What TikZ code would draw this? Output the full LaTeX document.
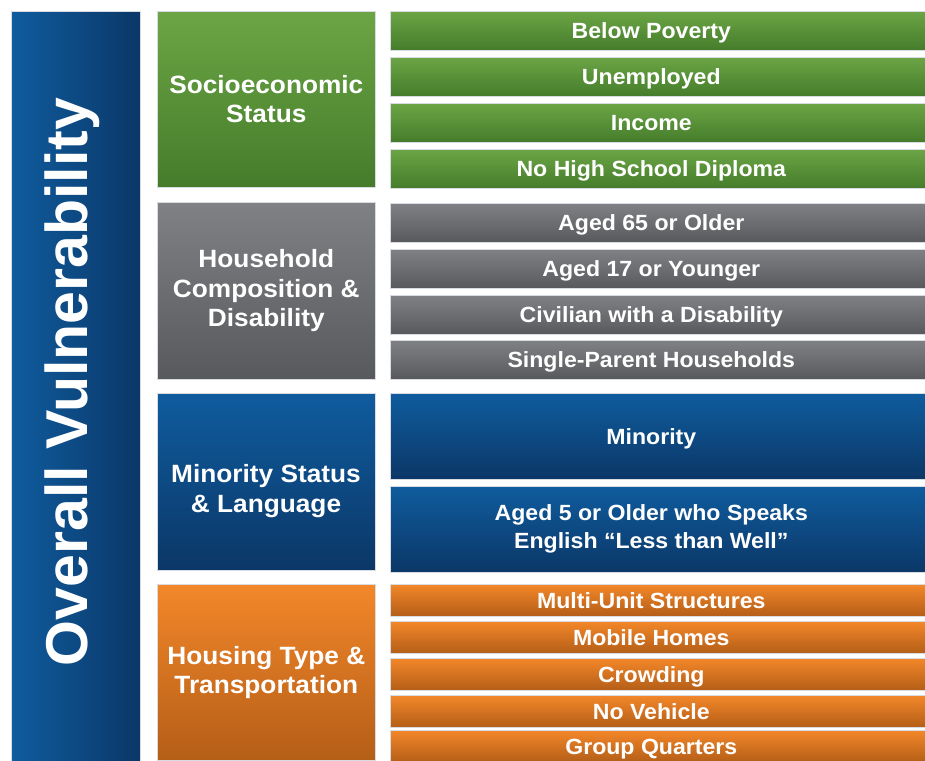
\documentclass[tikz,border=0pt]{standalone}
\usepackage{fontspec}
\setmainfont{Liberation Sans}[FakeStretch=1.05]
\newfontfamily\bigfont{Liberation Sans}
\newcommand\lsh{\hspace*{-18pt}}
\definecolor{grT}{HTML}{6CA545}\definecolor{grB}{HTML}{457C2B}
\definecolor{gyT}{HTML}{808185}\definecolor{gyB}{HTML}{58595C}
\definecolor{blT}{HTML}{0F5C9E}\definecolor{blB}{HTML}{0B3767}
\definecolor{orT}{HTML}{F3872A}\definecolor{orB}{HTML}{B45E17}
\definecolor{edgec}{HTML}{D8DCE2}
\tikzset{
  boxbase/.style={draw=edgec, line width=0.6pt, inner sep=0pt, anchor=north west,
    text=white, align=center},
  catfont/.style={font=\bfseries\fontsize{25}{29.5}\selectfont},
  catbox/.style={boxbase, minimum width=218pt, catfont},
  subbox/.style={boxbase, minimum width=540pt, font=\bfseries\fontsize{22}{28}\selectfont},
  oneline/.style={text height=16pt, text depth=0.5pt},
  greenf/.style={top color=grT, middle color=grT, bottom color=grB},
  grayf/.style={top color=gyT, middle color=gyT, bottom color=gyB},
  bluef/.style={top color=blT, middle color=blT, bottom color=blB},
  orangef/.style={top color=orT, middle color=orT, bottom color=orB},
}
\begin{document}
\begin{tikzpicture}[x=1pt,y=-1pt]
\useasboundingbox (0,0) rectangle (925,760);
\clip (0,0) rectangle (925,760);
\fill[white] (0,0) rectangle (925,760);
% left bar
\node[boxbase, minimum width=129pt, minimum height=760pt, left color=blT, middle color=blT, right color=blB] (bar) at (11,11) {};
\node[text=white, rotate=90, font=\bigfont\bfseries\fontsize{59}{60}\selectfont] (ov) at (72,382) {Overall Vulnerability};
% categories
\node[catbox, greenf, minimum height=176pt] (soc) at (157,11) {Socioeconomic\\Status};
\node[catbox, grayf, minimum height=177pt] (hou) at (157,202) {Household\\Composition \&\\Disability};
\node[catbox, bluef, minimum height=177pt] (min) at (157,393) {};
\node[text=white, align=center, catfont, inner sep=0pt] (mintxt) at (266,491) {Minority Status\\\& Language};
\node[catbox, orangef, minimum height=176pt] (htt) at (157,584) {Housing Type \&\\Transportation};
% green
\node[subbox, oneline, greenf, minimum height=39pt] (s1) at (390,11) {\lsh Below Poverty};
\node[subbox, oneline, greenf, minimum height=39pt] (s2) at (390,57) {\lsh Unemployed};
\node[subbox, oneline, greenf, minimum height=39pt] (s3) at (390,103) {\lsh Income};
\node[subbox, oneline, greenf, minimum height=39pt] (s4) at (390,149) {\lsh No High School Diploma};
% gray
\node[subbox, oneline, grayf, minimum height=39pt] (h1) at (390,203) {\lsh Aged 65 or Older};
\node[subbox, oneline, grayf, minimum height=39pt] (h2) at (390,249) {\lsh Aged 17 or Younger};
\node[subbox, oneline, grayf, minimum height=39pt] (h3) at (390,295) {\lsh Civilian with a Disability};
\node[subbox, oneline, grayf, minimum height=39pt] (h4) at (390,340) {\lsh Single-Parent Households};
% blue
\node[subbox, oneline, bluef, minimum height=86pt] (m1) at (390,393) {\lsh Minority};
\node[subbox, bluef, minimum height=86pt] (m2) at (390,486) {\lsh Aged 5 or Older who Speaks\\\lsh English “Less than Well”};
% orange
\node[subbox, oneline, orangef, minimum height=32pt] (o1) at (390,584) {\lsh Multi-Unit Structures};
\node[subbox, oneline, orangef, minimum height=32pt] (o2) at (390,621) {\lsh Mobile Homes};
\node[subbox, oneline, orangef, minimum height=32pt] (o3) at (390,658) {\lsh Crowding};
\node[subbox, oneline, orangef, minimum height=32pt] (o4) at (390,695) {\lsh No Vehicle};
\node[subbox, oneline, orangef, minimum height=32pt] (o5) at (390,730) {\lsh Group Quarters};
\end{tikzpicture}
\end{document}
